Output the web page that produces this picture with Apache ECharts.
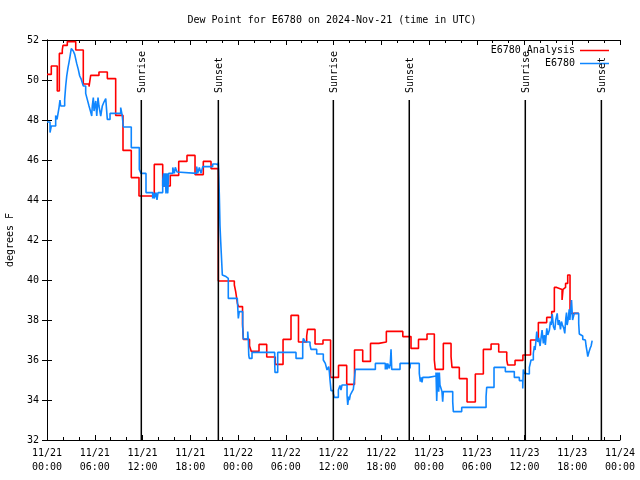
<!DOCTYPE html>
<html>
<head>
<meta charset="utf-8">
<script src="https://cdn.jsdelivr.net/npm/echarts@6/dist/echarts.min.js"></script>
<style>html,body{margin:0;padding:0;background:#fff}#c{width:640px;height:480px}</style>
</head>
<body>
<div id="c"></div>
<script>
// hours since 2024-11-21 00:00 UTC, dew point in degrees F
const analysis = [
[0,50.28],[0.54,50.7],[1.29,49.45],[1.55,51.33],[1.92,51.5],[2.01,51.73],[2.55,51.92],[3.61,51.5],[4.56,49.8],[5.28,49.67],[5.49,50.23],[6.53,50.4],[7.58,50.07],[8.63,48.23],[9.55,46.48],[10.59,45.12],[11.56,44.2],[13.48,45.78],[14.54,44.7],[15.49,45.23],[16.55,45.93],[17.59,46.23],[18.60,45.27],[19.64,45.93],[20.61,45.57],[21.53,39.95],[23.54,39.75],[23.71,39.42],[23.94,38.8],[24.09,38.67],[24.57,37.8],[24.67,37.03],[25.45,36.7],[25.67,36.43],[26.64,36.78],[27.61,36.15],[28.68,35.78],[29.66,37.03],[30.66,38.23],[31.60,36.9],[32.63,37.2],[32.74,37.53],[33.68,36.8],[34.68,37.0],[35.63,35.13],[36.63,35.73],[37.66,34.78],[38.64,36.5],[39.67,35.93],[40.65,36.83],[41.69,36.9],[42.64,37.43],[44.71,37.17],[45.74,36.58],[46.68,37.03],[47.75,37.3],[48.67,36.0],[48.79,35.53],[49.80,36.83],[50.77,36.17],[50.89,35.63],[51.81,35.07],[52.78,33.9],[53.82,35.3],[54.83,36.53],[55.80,36.8],[56.76,36.4],[57.77,36.0],[57.89,35.75],[58.81,35.98],[59.80,36.25],[60.76,37.0],[61.74,37.87],[62.79,38.13],[63.42,38.42],[63.75,39.63],[64.05,39.53],[64.72,39.0],[64.84,39.53],[65.01,39.63],[65.16,39.83],[65.43,40.25],[65.72,38.33],[66.81,38.33]
];
const observed = [
[0,47.9],[0.38,47.37],[0.54,47.7],[1.09,48.23],[1.26,48.03],[1.51,48.62],[1.63,49.0],[1.72,48.7],[2.22,49.03],[2.35,49.7],[2.48,50.2],[2.64,50.62],[2.76,50.87],[2.89,51.17],[3.05,51.57],[3.30,51.45],[3.48,51.28],[3.73,50.83],[3.93,50.53],[4.11,50.2],[4.31,50.03],[4.56,49.7],[4.86,49.33],[5.06,49.03],[5.28,48.7],[5.49,48.4],[5.62,48.2],[5.69,48.7],[5.82,49.12],[5.91,48.45],[6.12,48.95],[6.25,48.2],[6.41,49.12],[6.53,48.7],[6.75,48.2],[6.95,48.7],[7.16,48.9],[7.38,49.07],[7.58,48.03],[7.92,48.33],[9.26,48.62],[9.46,48.2],[9.59,47.65],[10.59,46.62],[11.60,45.53],[11.81,45.33],[12.44,44.37],[13.28,44.08],[13.41,44.37],[13.48,44.08],[13.70,44.37],[13.82,44.0],[13.95,44.37],[14.54,45.0],[14.66,45.33],[14.74,44.67],[14.87,45.33],[14.95,44.33],[15.08,45.33],[15.17,44.33],[15.29,45.33],[15.80,45.63],[16.00,45.33],[16.12,45.63],[16.34,45.4],[16.42,45.33],[18.81,45.67],[18.94,45.33],[19.14,45.63],[19.35,45.33],[19.57,45.67],[20.82,45.8],[21.24,45.87],[21.36,45.75],[21.53,45.87],[21.65,44.3],[21.74,42.7],[21.83,41.9],[21.90,41.33],[22.03,40.25],[22.15,40.17],[22.49,40.08],[22.78,39.08],[23.91,39.0],[24.04,38.08],[24.16,38.42],[24.59,37.67],[24.67,37.05],[25.22,37.42],[25.30,37.0],[25.35,36.25],[25.42,36.08],[25.76,36.38],[28.61,35.9],[28.65,35.38],[28.99,36.38],[31.29,36.08],[32.13,36.83],[32.21,37.08],[32.46,36.9],[33.05,36.75],[33.17,36.53],[33.89,36.3],[34.72,36.0],[34.97,35.83],[35.19,35.5],[35.40,35.67],[35.48,35.4],[35.56,35.0],[35.69,34.47],[35.98,34.33],[36.10,34.13],[36.61,34.5],[36.73,34.42],[36.82,34.73],[36.94,34.5],[37.07,34.75],[37.70,34.25],[37.79,33.75],[37.91,34.17],[37.99,34.0],[38.11,34.25],[38.33,34.42],[38.49,34.53],[38.62,35.0],[38.74,35.53],[41.26,35.83],[42.51,35.53],[42.60,35.83],[42.73,35.53],[42.81,35.83],[43.01,35.58],[43.14,35.83],[43.23,36.53],[43.32,35.53],[44.36,35.83],[45.62,35.58],[45.65,35.83],[46.78,35.33],[46.91,34.92],[47.00,35.13],[47.12,34.88],[47.21,35.13],[47.96,35.2],[48.88,35.37],[48.97,33.95],[49.09,35.37],[49.22,34.42],[49.30,35.37],[49.38,34.75],[49.51,34.67],[49.63,34.42],[49.72,33.92],[49.80,34.42],[50.98,33.92],[51.06,33.42],[52.11,33.63],[55.17,34.17],[55.25,34.63],[56.17,35.63],[57.59,35.42],[58.72,35.13],[59.35,34.97],[59.78,34.58],[59.85,35.53],[59.98,35.33],[60.10,35.3],[60.61,35.63],[60.82,36.0],[61.11,36.33],[61.24,36.7],[61.33,36.5],[61.45,37.0],[61.54,37.42],[61.67,36.9],[61.79,37.1],[61.96,36.7],[62.09,37.13],[62.21,37.5],[62.37,36.83],[62.50,37.25],[62.62,36.75],[62.80,37.58],[62.93,37.25],[63.13,37.5],[63.26,37.92],[63.35,37.75],[63.48,38.3],[63.64,37.67],[63.81,37.5],[63.93,38.0],[64.11,38.33],[64.23,37.75],[64.36,38.0],[64.52,37.53],[64.64,37.92],[64.77,37.75],[64.94,37.58],[65.06,37.33],[65.19,38.08],[65.28,38.37],[65.36,37.75],[65.49,38.03],[65.62,38.53],[65.70,38.0],[65.91,39.0],[66.04,38.0],[66.26,38.33],[66.81,37.83],[66.89,37.3],[67.10,37.2],[67.32,37.03],[67.44,37.0],[67.65,36.92],[67.74,36.7],[67.86,36.42],[67.95,36.17],[68.08,36.37],[68.24,36.58],[68.37,36.7],[68.50,36.97]
];
const sunTimes = [11.85, 21.53, 35.98, 45.52, 60.10, 69.66];
const sunLabels = ['Sunrise', 'Sunset', 'Sunrise', 'Sunset', 'Sunrise', 'Sunset'];
const sunLineBottom = 32;
const sunLineTop = 49;
const xTickLabels = ['11/21\n00:00','11/21\n06:00','11/21\n12:00','11/21\n18:00','11/22\n00:00','11/22\n06:00','11/22\n12:00','11/22\n18:00','11/23\n00:00','11/23\n06:00','11/23\n12:00','11/23\n18:00','11/24\n00:00'];
const seriesNames = ['E6780 Analysis', 'E6780'];

const FONT = '"DejaVu Sans Mono", "Liberation Mono", monospace';
const chart = echarts.init(document.getElementById('c'), null, {renderer: 'canvas'});
const axisCommon = {
  axisLine: {show: true, lineStyle: {color: '#000', width: 1}},
  axisTick: {show: true, inside: true, length: 5, lineStyle: {color: '#000', width: 1}},
  splitLine: {show: false}
};
chart.setOption({
  animation: false,
  backgroundColor: '#fff',
  title: {
    text: 'Dew Point for E6780 on 2024-Nov-21 (time in UTC)',
    left: 327, textAlign: 'center', top: 10,
    textStyle: {fontFamily: FONT, fontSize: 10, fontWeight: 'normal', color: '#000'}
  },
  legend: {
    data: seriesNames,
    orient: 'vertical', right: 26, top: 40, align: 'right',
    icon: 'rect', itemWidth: 29, itemHeight: 1.5, itemGap: 2,
    textStyle: {fontFamily: FONT, fontSize: 10, color: '#000', lineHeight: 11}
  },
  grid: {left: 47, right: 20, top: 40, bottom: 40, containLabel: false, outerBoundsMode: 'none'},
  xAxis: [
    Object.assign({}, axisCommon, {
      type: 'value', min: 0, max: 72, interval: 6, position: 'bottom',
      minorTick: {show: true, splitNumber: 3, length: 3, lineStyle: {color: '#000', width: 1}},
      axisLabel: {
        margin: 6, color: '#000', fontFamily: FONT, fontSize: 10, lineHeight: 14,
        formatter: v => xTickLabels[Math.round(v / 6)] || ''
      }
    }),
    Object.assign({}, axisCommon, {
      type: 'value', min: 0, max: 72, interval: 6, position: 'top',
      minorTick: {show: true, splitNumber: 3, length: 3, lineStyle: {color: '#000', width: 1}},
      axisLabel: {show: false}
    })
  ],
  yAxis: [
    Object.assign({}, axisCommon, {
      type: 'value', min: 32, max: 52, interval: 2, position: 'left',
      name: 'degrees F', nameLocation: 'middle', nameGap: 32,
      nameTextStyle: {fontFamily: FONT, fontSize: 10, color: '#000'},
      axisLabel: {margin: 8, color: '#000', fontFamily: FONT, fontSize: 10}
    }),
    Object.assign({}, axisCommon, {
      type: 'value', min: 32, max: 52, interval: 2, position: 'right',
      axisLabel: {show: false}
    })
  ],
  series: [
    {
      name: seriesNames[0], type: 'line', step: 'end', data: analysis,
      showSymbol: false, symbol: 'none', color: '#ff0000',
      lineStyle: {color: '#ff0000', width: 1.6}, z: 2
    },
    {
      name: seriesNames[1], type: 'line', step: 'end', data: observed,
      showSymbol: false, symbol: 'none', color: '#0f86ff',
      lineStyle: {color: '#0f86ff', width: 1.6}, z: 3
    },
    {
      type: 'custom', z: 4, silent: true,
      data: sunTimes.map((t, i) => [t, sunLineBottom, sunLineTop, i]),
      encode: {x: 0, y: [1, 2]},
      renderItem: function (params, api) {
        const t = api.value(0);
        const p0 = api.coord([t, api.value(1)]);
        const p1 = api.coord([t, api.value(2)]);
        return {
          type: 'group',
          children: [
            {type: 'line', shape: {x1: p0[0], y1: p0[1], x2: p1[0], y2: p1[1]},
             style: {stroke: '#000', lineWidth: 1.5}},
            {type: 'text', x: p1[0] + 1, y: p1[1] - 7, rotation: Math.PI / 2,
             style: {text: sunLabels[api.value(3)], align: 'left', verticalAlign: 'middle',
                     font: '10px ' + FONT, fill: '#000'}}
          ]
        };
      }
    }
  ]
});
</script>
</body>
</html>
